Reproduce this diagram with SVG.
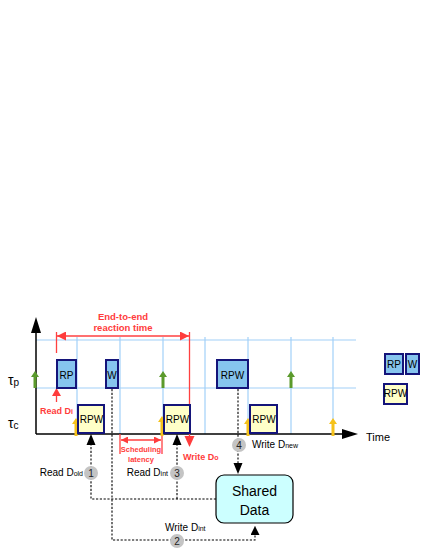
<svg xmlns="http://www.w3.org/2000/svg" width="425" height="550" viewBox="0 0 425 550">
<style>
text{font-family:"Liberation Sans",Arial,sans-serif}
.grid{stroke:#a2d0f8;stroke-width:1.2;fill:none}
.axis{stroke:#000;stroke-width:1.5;fill:none}
.blue{fill:#86c4ee;stroke:#14147a;stroke-width:2}
.yel{fill:#ffffc8;stroke:#14147a;stroke-width:2}
.lbl{font-size:10px;fill:#000}
.red{fill:#ff3c3c;font-weight:bold}
.dash{stroke:#000;stroke-width:1.1;stroke-dasharray:2.2,1.6;fill:none}
.circ{fill:#c4c4c4}
.num{font-size:10px;fill:#222;text-anchor:middle}
.rl{stroke:#ff4040;stroke-width:1.3;fill:none}
</style>
<defs>
<marker id="ah" viewBox="0 0 10 10" refX="10" refY="5" markerWidth="9" markerHeight="9" markerUnits="userSpaceOnUse" orient="auto"><path d="M0,0 L10,5 L0,10 z" fill="#000"/></marker>
<marker id="rh" viewBox="0 0 10 10" refX="10" refY="5" markerWidth="9" markerHeight="9" markerUnits="userSpaceOnUse" orient="auto-start-reverse"><path d="M0,0 L10,5 L0,10 z" fill="#ff3c3c"/></marker>
<marker id="rhs" viewBox="0 0 10 10" refX="10" refY="5" markerWidth="7" markerHeight="7" markerUnits="userSpaceOnUse" orient="auto-start-reverse"><path d="M0,0 L10,5 L0,10 z" fill="#ff3c3c"/></marker>
</defs>

<g id="grid">
<line class="grid" x1="36" y1="340" x2="356" y2="340"/>
<line class="grid" x1="36" y1="388" x2="356" y2="388"/>
<line class="grid" x1="77" y1="337" x2="77" y2="434"/>
<line class="grid" x1="120" y1="337" x2="120" y2="434"/>
<line class="grid" x1="163" y1="337" x2="163" y2="434"/>
<line class="grid" x1="205" y1="337" x2="205" y2="434"/>
<line class="grid" x1="248" y1="337" x2="248" y2="434"/>
<line class="grid" x1="291" y1="337" x2="291" y2="434"/>
<line class="grid" x1="333" y1="337" x2="333" y2="434"/>
</g>

<g id="axes">
<line class="axis" x1="36" y1="434" x2="36" y2="330"/>
<path d="M36,317 L31,333 L41,333 z" fill="#000"/>
<line class="axis" x1="36" y1="434" x2="345" y2="434"/>
<path d="M358,434 L342,429 L342,439 z" fill="#000"/>
<text x="366" y="441" font-size="11">Time</text>
<text x="8" y="385" font-size="14" font-family="'Liberation Serif',serif">τ<tspan font-size="10" dy="1">p</tspan></text>
<text x="8" y="428" font-size="14" font-family="'Liberation Serif',serif">τ<tspan font-size="10" dy="1">c</tspan></text>
</g>

<g id="e2e">
<line class="rl" x1="56.5" y1="332" x2="56.5" y2="353"/>
<line class="rl" x1="189.5" y1="332" x2="189.5" y2="437"/>
<path d="M189.5,447 L184.5,436 L194.5,436 z" fill="#ff3c3c"/>
<line class="rl" x1="57" y1="336" x2="189" y2="336" marker-start="url(#rh)" marker-end="url(#rh)"/>
<text class="red" x="123" y="320" font-size="9.5" text-anchor="middle">End-to-end</text>
<text class="red" x="123" y="331" font-size="9.5" text-anchor="middle">reaction time</text>
<text class="red" x="183" y="460" font-size="9">Write D<tspan font-size="7">o</tspan></text>
</g>

<g id="readDi">
<line class="rl" x1="56.5" y1="402" x2="56.5" y2="391"/>
<path d="M56.5,388 L52,396 L61,396 z" fill="#ff3c3c"/>
<text class="red" x="40" y="414" font-size="9">Read D<tspan font-size="7">i</tspan></text>
</g>

<g id="sched">
<line class="rl" x1="120" y1="434" x2="120" y2="454"/>
<line class="rl" x1="162" y1="434" x2="162" y2="454"/>
<line class="rl" x1="121" y1="440" x2="161" y2="440" marker-start="url(#rhs)" marker-end="url(#rhs)"/>
<text class="red" x="141" y="452" font-size="7.5" text-anchor="middle">Scheduling</text>
<text class="red" x="141" y="462" font-size="7.5" text-anchor="middle">latency</text>
</g>

<g id="releases">
<g fill="#5b9a2c">
<path d="M35,371 L31,377 L33.5,377 L33.5,388 L36.5,388 L36.5,377 L39,377 z"/>
<path d="M163,371 L159,377 L161.5,377 L161.5,388 L164.5,388 L164.5,377 L167,377 z"/>
<path d="M291,371 L287,377 L289.5,377 L289.5,388 L292.5,388 L292.5,377 L295,377 z"/>
</g>
<g fill="#f5c21b">
<path d="M76,418 L72,424 L74.5,424 L74.5,436 L77.5,436 L77.5,424 L80,424 z"/>
<path d="M162,416 L158,422 L160.5,422 L160.5,436 L163.5,436 L163.5,422 L166,422 z"/>
<path d="M248,418 L244,424 L246.5,424 L246.5,436 L249.5,436 L249.5,424 L252,424 z"/>
<path d="M333,418 L329,424 L331.5,424 L331.5,436 L334.5,436 L334.5,424 L337,424 z"/>
</g>
</g>

<g id="connectors">
<path class="dash" d="M112,389 V540 H255 V526" marker-end="url(#ah)"/>
<path class="dash" d="M216,499 H91 V444"/>
<path d="M91,434 L86.5,445 L95.5,445 z" fill="#000"/>
<path class="dash" d="M177,499 V444"/>
<path d="M177,434 L172.5,445 L181.5,445 z" fill="#000"/>
<path class="dash" d="M238,389 V464"/>
<path d="M238,474 L233.5,463 L242.5,463 z" fill="#000"/>
</g>

<g id="task-p-RP"><rect class="blue" x="57" y="360" width="19" height="28"/><text class="lbl" x="66.5" y="378.5" text-anchor="middle">RP</text></g>
<g id="task-p-W"><rect class="blue" x="106" y="360" width="12" height="28"/><text class="lbl" x="112" y="378.5" text-anchor="middle">W</text></g>
<g id="task-p-RPW"><rect class="blue" x="217" y="360" width="31" height="28"/><text class="lbl" x="232.5" y="378.5" text-anchor="middle">RPW</text></g>
<g id="task-c-1"><rect class="yel" x="78" y="405" width="26" height="28"/><text class="lbl" x="91.5" y="423" text-anchor="middle">RPW</text></g>
<g id="task-c-2"><rect class="yel" x="164" y="405" width="26" height="28"/><text class="lbl" x="177.5" y="423" text-anchor="middle">RPW</text></g>
<g id="task-c-3"><rect class="yel" x="250" y="405" width="27" height="28"/><text class="lbl" x="264" y="423" text-anchor="middle">RPW</text></g>

<g id="shared-data">
<rect x="216" y="475" width="77" height="48" rx="8" fill="#ccffff" stroke="#000" stroke-width="1.2"/>
<text x="254.5" y="496" font-size="14" text-anchor="middle">Shared</text>
<text x="254.5" y="515" font-size="14" text-anchor="middle">Data</text>
</g>

<g id="step1"><circle class="circ" cx="91" cy="473" r="7"/><text class="num" x="91" y="476.5">1</text><text class="lbl" x="83" y="476" font-size="9" text-anchor="end">Read D<tspan font-size="7">old</tspan></text></g>
<g id="step2"><circle class="circ" cx="177" cy="541" r="7"/><text class="num" x="177" y="544.5">2</text><text class="lbl" x="165" y="531" font-size="9">Write D<tspan font-size="7">int</tspan></text></g>
<g id="step3"><circle class="circ" cx="177" cy="473" r="7"/><text class="num" x="177" y="476.5">3</text><text class="lbl" x="168" y="476" font-size="9" text-anchor="end">Read D<tspan font-size="7">int</tspan></text></g>
<g id="step4"><circle class="circ" cx="239" cy="445" r="7"/><text class="num" x="239" y="448.5">4</text><text class="lbl" x="252" y="448" font-size="9">Write D<tspan font-size="7">new</tspan></text></g>

<g id="legend">
<g id="legend-RP"><rect class="blue" x="385" y="354" width="18" height="20"/><text class="lbl" x="394" y="367.5" font-size="9" text-anchor="middle">RP</text></g>
<g id="legend-W"><rect class="blue" x="406" y="354" width="13" height="20"/><text class="lbl" x="412.5" y="367.5" font-size="9" text-anchor="middle">W</text></g>
<g id="legend-RPW"><rect class="yel" x="384" y="384" width="23" height="20"/><text class="lbl" x="395.5" y="397" font-size="8" text-anchor="middle">RPW</text></g>
</g>
</svg>
